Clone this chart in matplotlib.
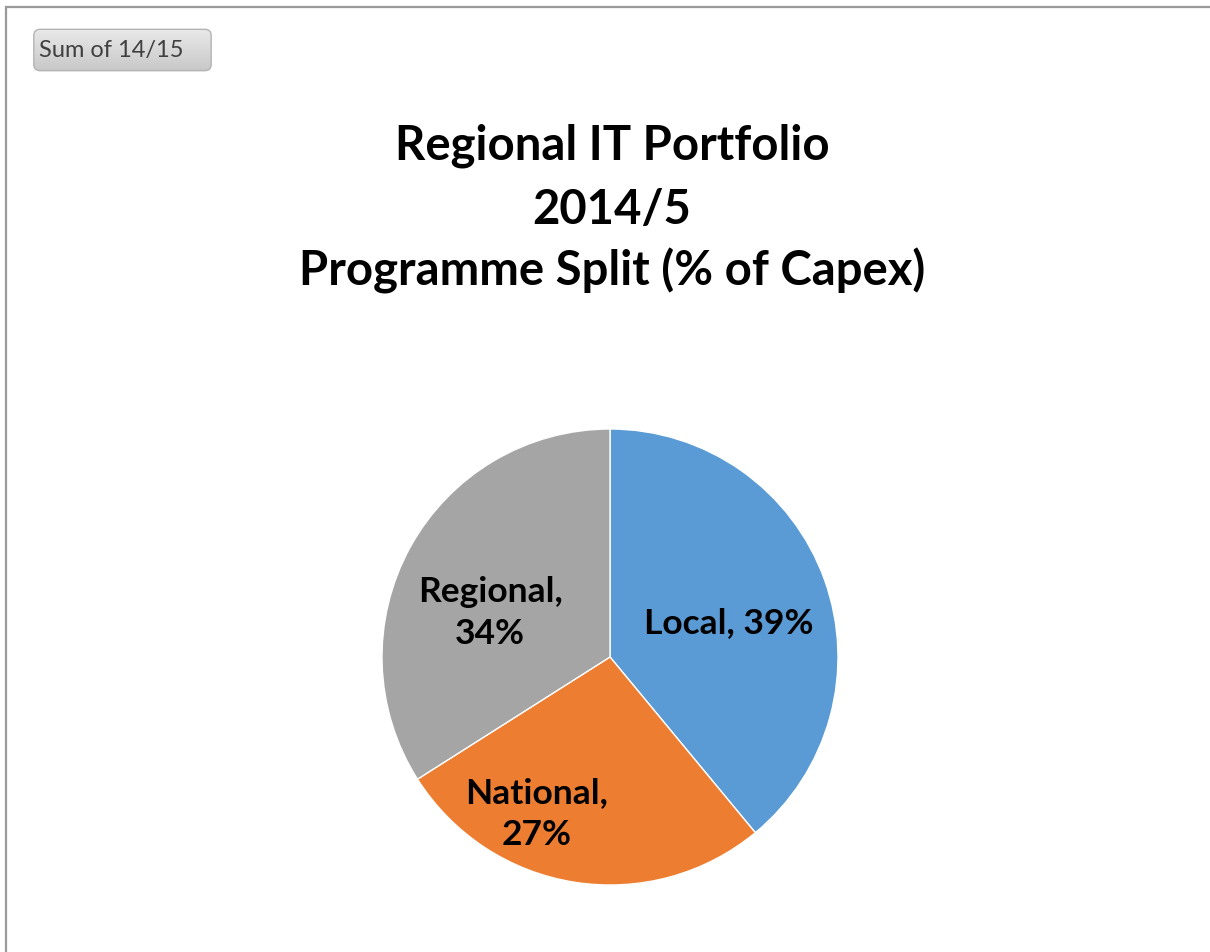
import matplotlib.pyplot as plt
import numpy as np
from matplotlib.patches import FancyBboxPatch
from matplotlib.lines import Line2D

categories = ["Local", "National", "Regional"]
shares = [39, 27, 34]
colors = ["#5B9BD5", "#ED7D31", "#A5A5A5"]
title_lines = ["Regional IT Portfolio", "2014/5", "Programme Split (% of Capex)"]
button_text = "Sum of 14/15"

# label placement (radius, angle in degrees) like Excel's best fit
label_pos = [(0.54, 16), (0.76, -115), (0.56, 160)]

W, H = 1210, 952
fig = plt.figure(figsize=(W / 100, H / 100), dpi=100)
fig.patch.set_facecolor("white")

# frame lines (top and left)
fig.add_artist(Line2D([8 / W, 1], [1 - 7 / H, 1 - 7 / H], color="#9a9a9a", lw=1.6))
fig.add_artist(Line2D([6 / W, 6 / W], [0, 1 - 7 / H], color="#9a9a9a", lw=1.6))

# button
bx, by, bw, bh = 32, 28, 181, 44
bax = fig.add_axes([bx / W, 1 - (by + bh) / H, bw / W, bh / H])
bax.set_xlim(0, 1)
bax.set_ylim(0, 1)
bax.axis("off")
patch = FancyBboxPatch((0.01, 0.03), 0.98, 0.94,
                       boxstyle="round,pad=0,rounding_size=0.035",
                       mutation_aspect=bw / bh,
                       facecolor="none", edgecolor="#b4b4b4", lw=1.0,
                       transform=bax.transAxes, zorder=3)
bax.add_patch(patch)
grad = np.linspace(0.78, 0.92, 100).reshape(-1, 1)
im = bax.imshow(np.dstack([grad, grad, grad]), extent=[0, 1, 0, 1],
                aspect="auto", origin="lower", zorder=1)
im.set_clip_path(patch)
bax.text(0.04, 0.48, button_text, fontsize=17, family="Lato",
         color="#404040", va="center", ha="left", zorder=4)

# title
for line, ypix in zip(title_lines, [146, 210, 271]):
    fig.text(612 / W, 1 - ypix / H, line, ha="center", va="center",
             fontsize=34, fontweight="bold", family="Lato")

# pie
cx, cy, r = 610, 657, 228
ax = fig.add_axes([(cx - r) / W, 1 - (cy + r) / H, 2 * r / W, 2 * r / H])
wedges, _ = ax.pie(shares, colors=colors, startangle=90, counterclock=False,
                   radius=1, wedgeprops=dict(edgecolor="white", linewidth=1))
ax.set_xlim(-1, 1)
ax.set_ylim(-1, 1)
ax.set_aspect("equal")
ax.axis("off")

for cat, val, (rr, ang) in zip(categories, shares, label_pos):
    x = rr * np.cos(np.radians(ang))
    y = rr * np.sin(np.radians(ang))
    if cat == "Local":
        txt = f"{cat}, {val}%"
    else:
        txt = f"{cat},\n{val}%"
    ax.text(x, y, txt, ha="center", va="center", fontsize=25.5,
            fontweight="bold", family="Lato", linespacing=1.38)

fig.savefig("out.png", dpi=100)
